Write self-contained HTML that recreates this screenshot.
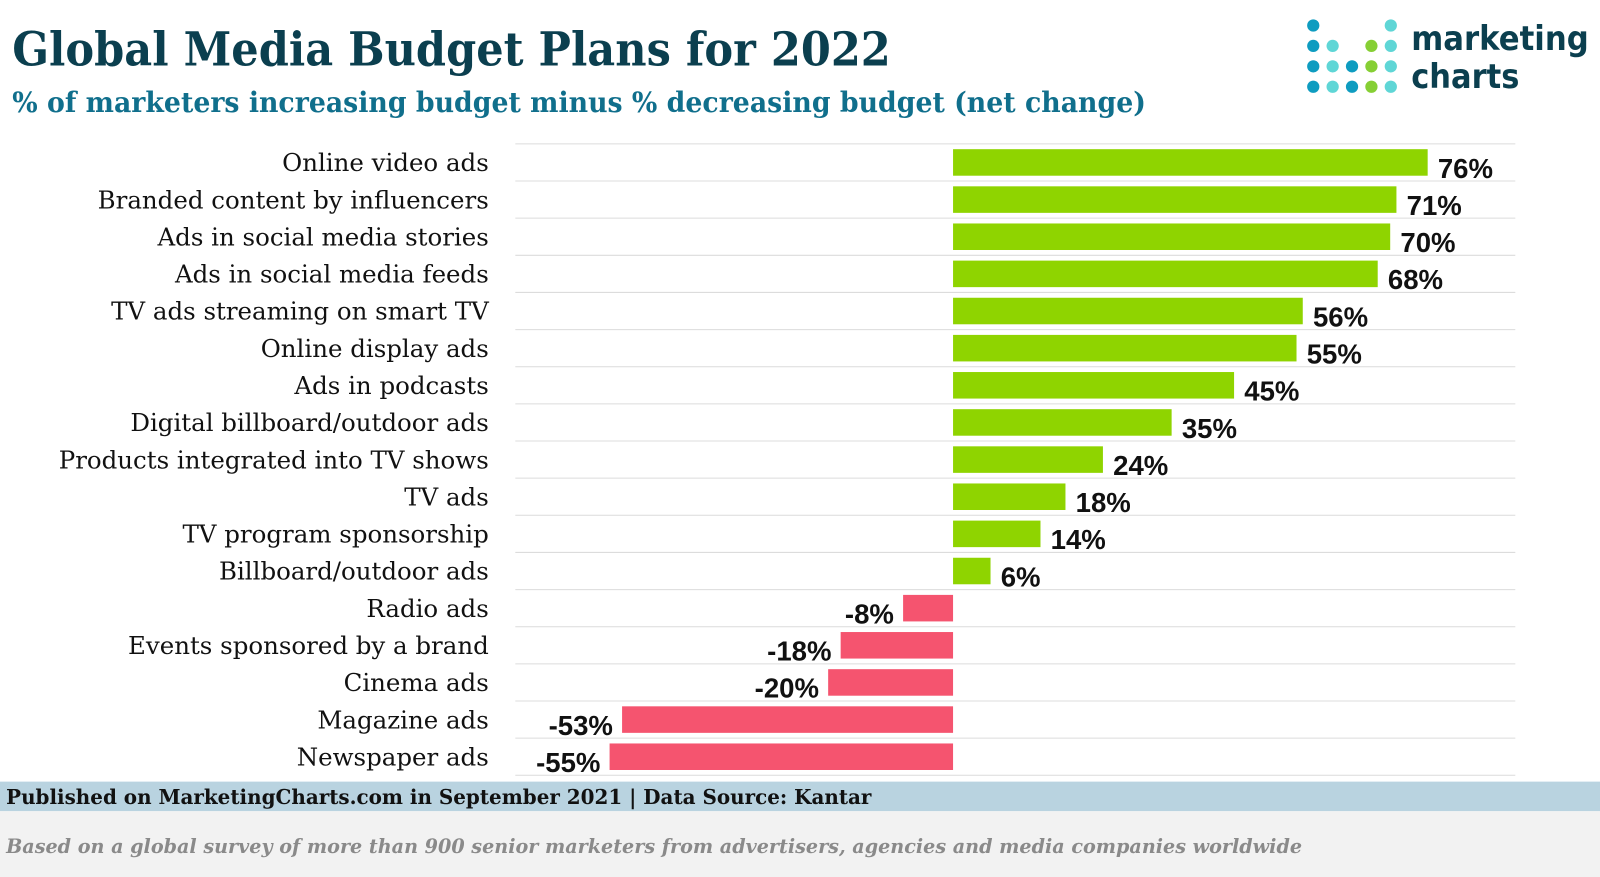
<!DOCTYPE html>
<html><head><meta charset="utf-8"><style>
body{margin:0;width:1600px;height:877px;overflow:hidden;background:#fff}
svg{display:block}
</style></head><body>
<svg id="chart" width="1600" height="877" xmlns="http://www.w3.org/2000/svg">
<rect x="0" y="0" width="1600" height="877" fill="#fff"/>
<g transform="scale(1.0204)">
<text x="12" y="64" font-family="DejaVu Serif, serif" font-weight="bold" font-size="46" fill="#0b3f4f" textLength="861" lengthAdjust="spacingAndGlyphs">Global Media Budget Plans for 2022</text>
<text x="12" y="110" font-family="DejaVu Serif, serif" font-weight="bold" font-size="27" fill="#106f8c" textLength="1111" lengthAdjust="spacingAndGlyphs">% of marketers increasing budget minus % decreasing budget (net change)</text>
<g id="logo"></g>
<text x="1383" y="49" font-family="DejaVu Sans, sans-serif" font-weight="bold" font-size="33" fill="#0b3f4f" textLength="174" lengthAdjust="spacingAndGlyphs">marketing</text>
<text x="1383" y="86" font-family="DejaVu Sans, sans-serif" font-weight="bold" font-size="33" fill="#0b3f4f" textLength="106" lengthAdjust="spacingAndGlyphs">charts</text>
<g id="grid"></g><g id="bars"></g>
<rect x="0" y="766" width="1600" height="29" fill="#b9d3e0"/>
<text x="6" y="788" font-family="DejaVu Serif, serif" font-weight="bold" font-size="20" fill="#111" textLength="848" lengthAdjust="spacingAndGlyphs">Published on MarketingCharts.com in September 2021 | Data Source: Kantar</text>
<rect x="0" y="795" width="1600" height="100" fill="#f2f2f2"/>
<text x="6" y="836" font-family="DejaVu Serif, serif" font-style="italic" font-weight="bold" font-size="19" fill="#8a8a8a" textLength="1270" lengthAdjust="spacingAndGlyphs">Based on a global survey of more than 900 senior marketers from advertisers, agencies and media companies worldwide</text>
</g>
</svg>
<script>
const categories = ["Online video ads","Branded content by influencers","Ads in social media stories","Ads in social media feeds","TV ads streaming on smart TV","Online display ads","Ads in podcasts","Digital billboard/outdoor ads","Products integrated into TV shows","TV ads","TV program sponsorship","Billboard/outdoor ads","Radio ads","Events sponsored by a brand","Cinema ads","Magazine ads","Newspaper ads"];
const values = [76,71,70,68,56,55,45,35,24,18,14,6,-8,-18,-20,-53,-55];
const valueLabels = ["76%","71%","70%","68%","56%","55%","45%","35%","24%","18%","14%","6%","-8%","-18%","-20%","-53%","-55%"];
const NS="http://www.w3.org/2000/svg";
const x0=934, pxPer=6.12, yTop=141, rowH=36.4, barH=26;
const xs=v=>x0+v*pxPer;
const yc=i=>yTop+rowH*(i+0.5);
function mk(tag,attrs,parent){const e=document.createElementNS(NS,tag);for(const k in attrs)e.setAttribute(k,attrs[k]);parent.appendChild(e);return e;}
const grid=document.getElementById('grid'), bars=document.getElementById('bars');
for(let i=0;i<=categories.length;i++){
  const l=mk('line',{x1:505,x2:1485,y1:yTop+rowH*i,y2:yTop+rowH*i,stroke:'#dcdcdc','stroke-width':1},grid);
  
  
}
categories.forEach((c,i)=>{
  const v=values[i], y=yc(i);
  const t=mk('text',{x:479,y:y+8.5,'text-anchor':'end','font-family':'DejaVu Serif, serif','font-size':24,fill:'#111'},bars);
  t.textContent=c;
  
  
  const a=Math.min(xs(0),xs(v)), w=Math.abs(xs(v)-xs(0));
  const r=mk('rect',{x:a,y:y-barH/2,width:w,height:barH,fill:v>=0?'#8fd400':'#f5546f'},bars);
  
  
  const vl=mk('text',{x:v>=0?xs(v)+10:xs(v)-9,y:y+15,'text-anchor':v>=0?'start':'end','font-family':'Liberation Sans, sans-serif','font-weight':'bold','font-size':27,fill:'#111'},bars);
  vl.textContent=valueLabels[i];
  
  
});
const logo=document.getElementById('logo');
const dots=[[0,0,'#0e9cc0'],[4,0,'#5fd6d6'],[0,1,'#0e9cc0'],[1,1,'#5fd6d6'],[3,1,'#86cf34'],[4,1,'#5fd6d6'],[0,2,'#0e9cc0'],[1,2,'#5fd6d6'],[2,2,'#0e9cc0'],[3,2,'#86cf34'],[4,2,'#5fd6d6'],[0,3,'#0e9cc0'],[1,3,'#5fd6d6'],[2,3,'#0e9cc0'],[3,3,'#86cf34'],[4,3,'#5fd6d6']];
dots.forEach(d=>{
  const c=mk('circle',{cx:1287+d[0]*19,cy:25+d[1]*20,r:6,fill:d[2]},logo);
  
  
});
</script>
</body></html>
